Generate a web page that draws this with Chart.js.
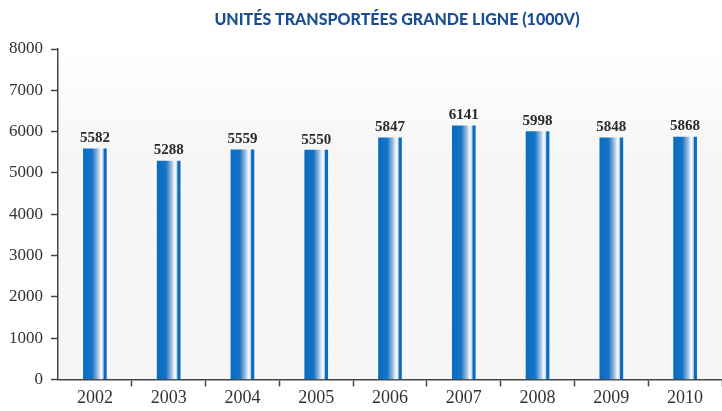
<!DOCTYPE html>
<html>
<head>
<meta charset="utf-8">
<script src="https://cdn.jsdelivr.net/npm/chart.js@4/dist/chart.umd.min.js"></script>
<style>
  html, body { margin: 0; padding: 0; background: #fff; }
  #wrap { width: 722px; height: 411px; }
</style>
</head>
<body>
<div id="wrap"><canvas id="unitsChart"></canvas></div>
<script>
const years = ["2002","2003","2004","2005","2006","2007","2008","2009","2010"];
const units = [5582, 5288, 5559, 5550, 5847, 6141, 5998, 5848, 5868];
const yTicks = [0, 1000, 2000, 3000, 4000, 5000, 6000, 7000, 8000];
const chartTitle = "UNITÉS TRANSPORTÉES GRANDE LIGNE (1000V)";
const BAR_W = 23;

// faint grey backdrop behind the plot (the original has a washed-out map)
const backdrop = {
  id: "backdrop",
  beforeDraw(chart) {
    const { ctx, chartArea: a } = chart;
    const g = ctx.createLinearGradient(0, a.top, 0, a.bottom);
    g.addColorStop(0, "rgba(238,238,238,0)");
    g.addColorStop(0.3, "rgba(238,238,238,0.5)");
    g.addColorStop(1, "rgba(240,240,240,0.6)");
    ctx.save();
    ctx.fillStyle = g;
    ctx.fillRect(a.left, a.top, a.right - a.left, a.bottom - a.top);
    ctx.restore();
  }
};

// title sits over the plot, not the whole canvas
const plotTitle = {
  id: "plotTitle",
  afterDraw(chart) {
    const ctx = chart.ctx;
    ctx.save();
    ctx.font = "900 16px Lato";
    ctx.fillStyle = "#1b4f93";
    ctx.textAlign = "center";
    ctx.textBaseline = "middle";
    ctx.fillText(chartTitle, 397, 20);
    ctx.restore();
  }
};

// horizontal shine per bar, computed from the x scale
function barGradient(c) {
  const chart = c.chart;
  const xs = chart.scales.x;
  if (!xs || c.dataIndex === undefined) return "#0a6cc0";
  const cx = xs.getPixelForValue(c.dataIndex);
  if (!isFinite(cx)) return "#0a6cc0";
  const l = cx - BAR_W / 2, r = cx + BAR_W / 2;
  const g = chart.ctx.createLinearGradient(l, 0, r, 0);
  g.addColorStop(0, "#0a6cc0");
  g.addColorStop(0.38, "#1473c4");
  g.addColorStop(0.62, "#9dbde2");
  g.addColorStop(0.78, "#ffffff");
  g.addColorStop(0.86, "#b8d0ec");
  g.addColorStop(0.9, "#0a6cc0");
  g.addColorStop(1, "#0a6cc0");
  return g;
}

// value printed above each bar
const valueLabels = {
  id: "valueLabels",
  afterDatasetsDraw(chart) {
    const ctx = chart.ctx;
    ctx.save();
    ctx.font = "bold 15px 'Liberation Serif'";
    ctx.fillStyle = "#2b2b2b";
    ctx.textAlign = "center";
    ctx.textBaseline = "bottom";
    chart.getDatasetMeta(0).data.forEach((bar, i) => {
      ctx.fillText(units[i], bar.x, bar.y - 3);
    });
    ctx.restore();
  }
};

new Chart(document.getElementById("unitsChart"), {
  type: "bar",
  data: {
    labels: years,
    datasets: [{
      label: "Unités",
      data: units,
      backgroundColor: barGradient,
      barThickness: BAR_W,
      borderWidth: 0
    }]
  },
  options: {
    responsive: true,
    maintainAspectRatio: false,
    animation: false,
    layout: { padding: { left: 1, right: 0, top: 49, bottom: 0 } },
    plugins: {
      legend: { display: false },
      tooltip: { enabled: false },
      title: { display: false }
    },
    scales: {
      x: {
        grid: {
          display: true,
          drawOnChartArea: false,
          tickLength: 7,
          tickWidth: 1.5,
          tickColor: c => (c.index === 0 || c.index === years.length) ? "rgba(0,0,0,0)" : "#444"
        },
        border: { display: true, color: "#444", width: 1.5 },
        ticks: {
          color: "#333",
          padding: 6,
          font: { family: "Liberation Serif", size: 18, lineHeight: 0.7 }
        }
      },
      y: {
        min: 0,
        max: 8000,
        afterBuildTicks: axis => { axis.ticks = yTicks.map(v => ({ value: v })); },
        grid: {
          display: true,
          drawOnChartArea: false,
          tickLength: 7,
          tickWidth: 1.5,
          tickColor: "#444"
        },
        border: { display: true, color: "#444", width: 1.5 },
        ticks: {
          color: "#333",
          padding: 8,
          font: { family: "Liberation Serif", size: 17 },
          callback: v => String(v)
        }
      }
    }
  },
  plugins: [backdrop, valueLabels, plotTitle]
});
</script>
</body>
</html>
